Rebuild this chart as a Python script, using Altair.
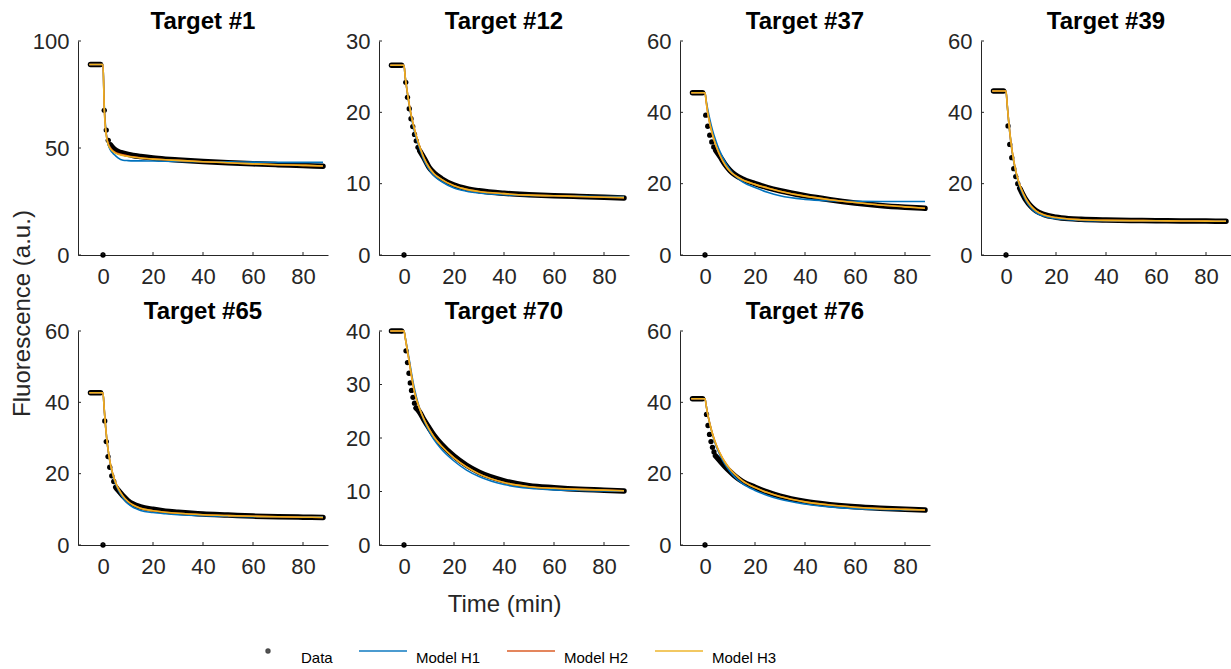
import altair as alt
import pandas as pd

FONT = "Liberation Sans"
AXIS_COLOR = "#262626"

TITLES = ["Target #1", "Target #12", "Target #37", "Target #39",
          "Target #65", "Target #70", "Target #76"]
Y_MAX = [100, 30, 60, 60, 60, 40, 60]
Y_TICKS = [[0, 50, 100], [0, 10, 20, 30], [0, 20, 40, 60], [0, 20, 40, 60],
           [0, 20, 40, 60], [0, 10, 20, 30, 40], [0, 20, 40, 60]]
X_TICKS = [0, 20, 40, 60, 80]

SERIES = ["Data", "Model H1", "Model H2", "Model H3"]
SERIES_COLORS = ["#000000", "#0072BD", "#D95319", "#EDB120"]

# flat baseline recorded before t = 0
PRE_T = [-5, -1]
PRE_LEVEL = [89.0, 26.6, 45.5, 46.0, 42.7, 40.0, 41.0]

# individually visible samples (t = 0 reads zero in every trace)
DOT_T = [
    [0, 0.5, 1.3, 2.1],
    [0, 0.7, 1.4, 2.1, 2.8, 3.5, 4.2, 4.9, 5.6],
    [0, 0.3, 1.1, 1.9, 2.7, 3.5],
    [0, 0.8, 1.5, 2.3, 3.1, 3.9, 4.7],
    [0, 0.7, 1.3, 2.0, 2.7, 3.5, 4.3],
    [0, 0.8, 1.4, 2.0, 2.5, 3.0, 3.6, 4.2],
    [0, 0.6, 1.2, 1.8, 2.4, 3.0, 3.6],
]
DOT_Y = [
    [0, 67.6, 58.4, 53.6],
    [0, 24.2, 22.1, 20.5, 19.1, 18.0, 16.9, 16.0, 15.1],
    [0, 39.2, 36.1, 33.6, 31.7, 30.3],
    [0, 36.2, 31.0, 27.3, 24.2, 22.0, 20.0],
    [0, 34.8, 29.0, 24.8, 21.8, 19.4, 17.8],
    [0, 36.3, 34.1, 32.1, 30.3, 28.9, 27.6, 26.5],
    [0, 36.6, 33.5, 31.0, 29.0, 27.4, 26.1],
]

# densely sampled remainder of each trace
TAIL_T = [
    [3, 4, 5, 6, 8, 10, 12, 15, 20, 25, 30, 40, 50, 60, 70, 80, 88],
    [6.3, 8, 10, 12, 15, 20, 25, 30, 40, 50, 60, 70, 80, 88],
    [4.3, 6, 8, 10, 12, 15, 20, 25, 30, 40, 50, 60, 70, 80, 88],
    [5.5, 6, 8, 10, 12, 15, 20, 25, 30, 40, 50, 60, 70, 80, 88],
    [5.1, 6, 8, 10, 12, 15, 20, 25, 30, 40, 50, 60, 70, 80, 88],
    [4.8, 6, 8, 10, 12, 15, 20, 25, 30, 40, 50, 60, 70, 80, 88],
    [4.2, 6, 8, 10, 12, 15, 20, 25, 30, 40, 50, 60, 70, 80, 88],
]
TAIL_Y = [
    [51.5, 50.0, 49.0, 48.4, 47.6, 47.0, 46.5, 46.0, 45.3, 44.8, 44.4, 43.7, 43.1, 42.6, 42.2, 41.8, 41.5],
    [14.6, 13.6, 12.3, 11.5, 10.7, 9.8, 9.3, 9.0, 8.65, 8.45, 8.3, 8.2, 8.1, 8.0],
    [29.3, 27.6, 25.4, 23.7, 22.5, 21.3, 20.0, 18.9, 18.0, 16.6, 15.5, 14.6, 13.9, 13.4, 13.1],
    [18.7, 18.0, 15.4, 13.6, 12.4, 11.4, 10.6, 10.2, 10.0, 9.8, 9.7, 9.6, 9.55, 9.5, 9.45],
    [16.2, 15.4, 13.8, 12.4, 11.5, 10.7, 10.0, 9.5, 9.2, 8.7, 8.4, 8.1, 7.9, 7.8, 7.7],
    [25.6, 25.0, 23.4, 21.9, 20.5, 18.8, 16.6, 14.9, 13.6, 12.0, 11.1, 10.7, 10.4, 10.25, 10.1],
    [25.0, 23.6, 22.0, 20.6, 19.3, 17.8, 16.2, 14.8, 13.7, 12.2, 11.3, 10.7, 10.3, 10.0, 9.8],
]

# fitted model curves, all evaluated on the same time grid
MODEL_T = [-5.5, 0, 0.5, 1, 1.5, 2, 3, 4, 5, 6, 8, 10, 12, 15, 20, 25, 30, 40, 50, 60, 70, 80, 88]
H1 = [
    [89, 89, 70.0, 60.5, 55.0, 52.0, 49.0, 47.5, 46.4, 45.4, 44.3, 44.1, 44.0, 44.0, 43.9, 43.8, 43.7, 43.6, 43.5, 43.4, 43.3, 43.3, 43.3],
    [26.6, 26.6, 24.9, 23.6, 22.3, 21.2, 19.2, 17.6, 16.3, 15.2, 13.3, 12.0, 11.1, 10.3, 9.4, 8.95, 8.7, 8.45, 8.35, 8.3, 8.25, 8.2, 8.2],
    [45.5, 45.5, 43.2, 41.2, 39.4, 37.8, 35.0, 32.7, 30.7, 29.0, 26.1, 23.9, 22.2, 20.5, 18.9, 17.6, 16.6, 15.6, 15.2, 15.05, 15.0, 15.0, 15.0],
    [46, 46, 42.0, 38.0, 34.4, 31.3, 26.5, 23.0, 20.3, 18.2, 15.2, 13.2, 11.9, 10.9, 10.2, 9.9, 9.7, 9.6, 9.55, 9.5, 9.5, 9.5, 9.5],
    [42.7, 42.7, 38.0, 33.5, 29.8, 26.8, 22.4, 19.4, 17.2, 15.6, 13.2, 11.6, 10.6, 9.7, 9.1, 8.75, 8.5, 8.2, 8.05, 7.95, 7.9, 7.9, 7.9],
    [40, 40, 38.8, 37.5, 36.2, 34.9, 32.1, 29.6, 27.6, 25.9, 23.3, 21.3, 19.7, 17.9, 15.7, 14.0, 12.8, 11.3, 10.6, 10.3, 10.2, 10.1, 10.05],
    [41, 41, 39.0, 37.0, 35.3, 33.7, 31.0, 28.7, 26.8, 25.2, 22.6, 20.6, 19.0, 17.2, 15.3, 13.9, 12.8, 11.5, 10.7, 10.2, 9.95, 9.85, 9.8],
]
H2 = [
    [89, 89, 69.0, 59.5, 55.0, 52.5, 50.0, 48.7, 47.9, 47.4, 46.8, 46.3, 45.9, 45.4, 44.9, 44.5, 44.2, 43.6, 43.1, 42.6, 42.2, 41.9, 41.6],
    [26.6, 26.6, 24.9, 23.6, 22.4, 21.3, 19.4, 17.9, 16.6, 15.5, 13.6, 12.3, 11.4, 10.6, 9.7, 9.2, 8.9, 8.6, 8.4, 8.3, 8.2, 8.1, 8.05],
    [45.5, 45.5, 42.8, 40.3, 38.3, 36.6, 33.8, 31.4, 29.5, 27.9, 25.3, 23.5, 22.3, 21.1, 19.8, 18.8, 17.9, 16.5, 15.5, 14.7, 14.0, 13.5, 13.1],
    [46, 46, 42.0, 38.0, 34.5, 31.5, 26.8, 23.3, 20.7, 18.7, 15.7, 13.7, 12.4, 11.3, 10.5, 10.1, 9.9, 9.7, 9.65, 9.6, 9.55, 9.5, 9.45],
    [42.7, 42.7, 38.0, 33.5, 29.8, 26.9, 22.6, 19.7, 17.6, 16.0, 13.7, 12.2, 11.2, 10.3, 9.6, 9.2, 8.9, 8.5, 8.25, 8.05, 7.9, 7.8, 7.7],
    [40, 40, 38.7, 37.3, 35.9, 34.5, 31.6, 29.0, 27.2, 25.8, 23.5, 21.7, 20.2, 18.5, 16.3, 14.6, 13.3, 11.7, 10.9, 10.6, 10.4, 10.25, 10.15],
    [41, 41, 39.0, 37.0, 35.3, 33.8, 31.2, 29.0, 27.2, 25.7, 23.2, 21.3, 19.8, 18.0, 16.1, 14.7, 13.6, 12.1, 11.2, 10.6, 10.2, 10.0, 9.8],
]
H3 = [
    [89, 89, 68.5, 59.0, 54.5, 52.0, 49.6, 48.4, 47.6, 47.1, 46.5, 46.1, 45.8, 45.3, 44.8, 44.5, 44.2, 43.6, 43.1, 42.6, 42.2, 41.9, 41.6],
    [26.6, 26.6, 24.9, 23.6, 22.4, 21.3, 19.4, 17.9, 16.6, 15.5, 13.6, 12.3, 11.4, 10.6, 9.7, 9.2, 8.9, 8.6, 8.4, 8.3, 8.2, 8.1, 8.05],
    [45.5, 45.5, 42.8, 40.3, 38.3, 36.6, 33.8, 31.4, 29.5, 27.9, 25.3, 23.5, 22.3, 21.1, 19.8, 18.8, 17.9, 16.5, 15.5, 14.7, 14.0, 13.5, 13.1],
    [46, 46, 42.0, 38.0, 34.5, 31.5, 26.8, 23.3, 20.7, 18.7, 15.7, 13.7, 12.4, 11.3, 10.5, 10.1, 9.9, 9.7, 9.65, 9.6, 9.55, 9.5, 9.45],
    [42.7, 42.7, 38.0, 33.5, 29.8, 26.9, 22.6, 19.7, 17.6, 16.0, 13.7, 12.2, 11.2, 10.3, 9.6, 9.2, 8.9, 8.5, 8.25, 8.05, 7.9, 7.8, 7.7],
    [40, 40, 38.7, 37.3, 35.9, 34.5, 31.6, 29.0, 27.2, 25.8, 23.5, 21.7, 20.2, 18.5, 16.3, 14.6, 13.3, 11.7, 10.9, 10.6, 10.4, 10.25, 10.15],
    [41, 41, 39.0, 37.0, 35.3, 33.8, 31.2, 29.0, 27.2, 25.7, 23.2, 21.3, 19.8, 18.0, 16.1, 14.7, 13.6, 12.1, 11.2, 10.6, 10.2, 10.0, 9.8],
]

W, H = 250, 214
# legend glyphs: a solid dot for the data (two nested stroked rings),
# a 48 px stroke for each model
DOT_PATH = ("M-0.07,0A0.07,0.07 0 1,1 0.07,0A0.07,0.07 0 1,1 -0.07,0Z"
            "M-0.03,0A0.03,0.03 0 1,1 0.03,0A0.03,0.03 0 1,1 -0.03,0Z")
LINE_PATH = "M-1,0L1,0"


def panel(i, x_title="", y_title="", legend=False):
    xs = alt.Scale(domain=[-10, 90], nice=False, zero=False)
    ys = alt.Scale(domain=[0, Y_MAX[i]], nice=False, zero=False)
    x_axis = dict(values=X_TICKS, ticks=False, grid=False, domainColor=AXIS_COLOR,
                  domainWidth=1, labelFont=FONT, labelFontSize=22, labelColor=AXIS_COLOR,
                  labelPadding=11, labelFlush=False, title=x_title or None)
    if x_title:
        x_axis.update(titleFont=FONT, titleFontSize=24, titleFontWeight="normal",
                      titleColor=AXIS_COLOR, titlePadding=15)
    y_axis = dict(values=Y_TICKS[i], ticks=False, grid=False, domainColor=AXIS_COLOR,
                  domainWidth=1, labelFont=FONT, labelFontSize=22, labelColor=AXIS_COLOR,
                  labelPadding=9, labelFlush=False, title=y_title or None)
    if y_title:
        y_axis.update(titleFont=FONT, titleFontSize=24, titleFontWeight="normal",
                      titleColor=AXIS_COLOR, titleAngle=270, titleBaseline="middle",
                      titleX=-56, titleY=272)
    X = alt.X("t:Q", scale=xs, axis=alt.Axis(**x_axis))
    Y = alt.Y("y:Q", scale=ys, axis=alt.Axis(**y_axis))

    line_df = pd.DataFrame(
        [{"t": t, "y": PRE_LEVEL[i], "seg": "pre"} for t in PRE_T]
        + [{"t": t, "y": y, "seg": "tail"} for t, y in zip(TAIL_T[i], TAIL_Y[i])]
    )
    dot_df = pd.DataFrame({"t": DOT_T[i], "y": DOT_Y[i]})
    model_df = pd.concat([
        pd.DataFrame({"t": MODEL_T, "y": vals[i], "series": name})
        for name, vals in zip(SERIES[1:], [H1, H2, H3])
    ])

    layers = [
        alt.Chart(line_df).mark_line(color="black", strokeWidth=5.5, strokeCap="round",
                                     strokeJoin="round", interpolate="monotone")
        .encode(x=X, y=Y, detail="seg:N"),
        alt.Chart(dot_df).mark_circle(color="black", size=28, opacity=1).encode(x=X, y=Y),
    ]
    for name, color in zip(SERIES[1:], SERIES_COLORS[1:]):
        layers.append(
            alt.Chart(model_df).transform_filter(alt.datum.series == name)
            .mark_line(color=color, strokeWidth=1.6, interpolate="monotone")
            .encode(x=X, y=Y)
        )
    # short inward tick marks on both axes
    layers.append(
        alt.Chart(pd.DataFrame({"t": X_TICKS})).mark_rule(color=AXIS_COLOR, strokeWidth=1)
        .encode(x=X, y=alt.value(H), y2=alt.value(H - 3))
    )
    layers.append(
        alt.Chart(pd.DataFrame({"y": Y_TICKS[i]})).mark_rule(color=AXIS_COLOR, strokeWidth=1)
        .encode(y=Y, x=alt.value(0), x2=alt.value(3))
    )
    if legend:
        leg = alt.Legend(orient="none", legendX=165, legendY=585, direction="horizontal",
                         columns=4, title=None, symbolSize=2304, symbolStrokeWidth=2,
                         labelFont=FONT, labelFontSize=15, labelColor="black",
                         labelBaseline="top", labelOffset=8, columnPadding=22,
                         gridAlign="each")
        leg_df = pd.DataFrame({"series": SERIES, "t": [0] * 4, "y": [0] * 4})
        layers.append(
            alt.Chart(leg_df).transform_filter("false")
            .mark_point(filled=False, size=2304, strokeWidth=2)
            .encode(
                x=X, y=Y,
                color=alt.Color("series:N", scale=alt.Scale(domain=SERIES, range=SERIES_COLORS), legend=leg),
                shape=alt.Shape("series:N", scale=alt.Scale(domain=SERIES, range=[DOT_PATH, LINE_PATH, LINE_PATH, LINE_PATH]), legend=leg),
            )
        )
    title = alt.TitleParams(TITLES[i], font=FONT, fontSize=24, fontWeight="bold", color="black",
                            anchor="middle", frame="group", baseline="alphabetic", offset=-23)
    return alt.layer(*layers).properties(width=W, height=H, title=title)


panels = [panel(0, y_title="Fluorescence (a.u.)", legend=True), panel(1), panel(2), panel(3),
          panel(4), panel(5, x_title="Time (min)"), panel(6)]

chart = (
    alt.concat(*panels, columns=4, spacing={"row": 76, "column": 51}, bounds="flush")
    .properties(padding={"left": 10, "top": 10, "right": 0, "bottom": 0}, background="white")
    .configure_view(stroke=None)
)

chart.save("out.html", embed_options={"renderer": "svg", "actions": False})
